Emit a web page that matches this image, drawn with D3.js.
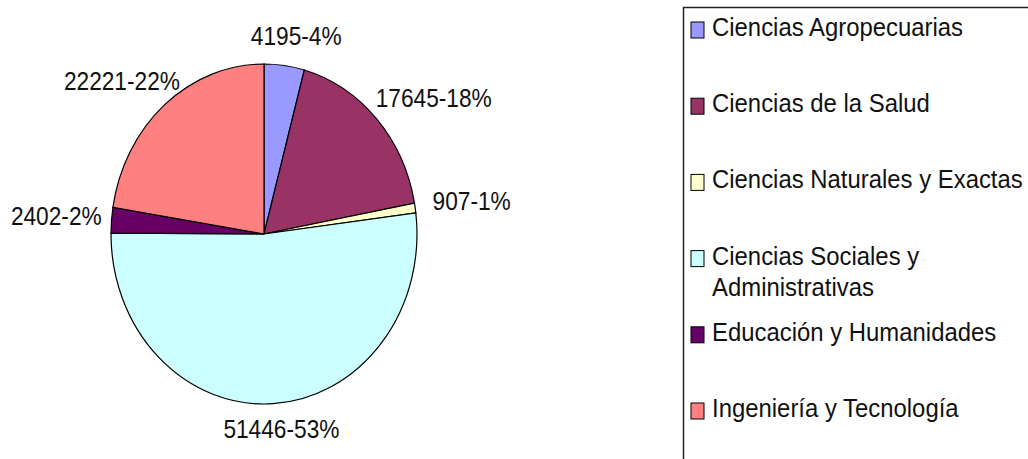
<!DOCTYPE html>
<html>
<head>
<meta charset="utf-8">
<script src="https://cdn.jsdelivr.net/npm/d3@7"></script>
<style>
  body { margin: 0; background: #fff; }
  text { font-family: "Liberation Sans", Arial, sans-serif; fill: #111; }
</style>
</head>
<body>
<div id="chart"></div>
<script>
// data
var categories = ["Ciencias Agropecuarias", "Ciencias de la Salud", "Ciencias Naturales y Exactas",
                  "Ciencias Sociales y Administrativas", "Educación y Humanidades", "Ingeniería y Tecnología"];
var students = [4195, 17645, 907, 51446, 2402, 22221];
var percentLabels = ["4%", "18%", "1%", "53%", "2%", "22%"];
var sliceColors = ["#9999ff", "#993366", "#ffffcc", "#ccffff", "#660066", "#ff8080"];

var W = 1028, H = 459;
var cx = 264, cy = 234, rx = 153, ry = 170;
var sy = ry / rx;          // the picture is stretched vertically
var fontSize = 22.7, legFontSize = 23.9;

var svg = d3.select("#chart").append("svg")
  .attr("width", W).attr("height", H);

var rows = categories.map(function(c, i){
  return {name: c, val: students[i], pct: percentLabels[i], color: sliceColors[i]};
});

var pie = d3.pie().sort(null).value(function(d){ return d.val; });
var arcs = pie(rows);
var arc = d3.arc().innerRadius(0).outerRadius(rx);

var g = svg.append("g")
  .attr("transform", "translate(" + cx + "," + cy + ") scale(1," + sy + ")");

g.selectAll("path.slice")
  .data(arcs)
  .enter().append("path")
  .attr("class", "slice")
  .attr("d", arc)
  .attr("fill", function(d){ return d.data.color; })
  .attr("stroke", "#000")
  .attr("stroke-width", 1.2)
  .attr("vector-effect", "non-scaling-stroke");

// data labels outside the pie
var labelR = rx + 14;
svg.selectAll("text.lbl")
  .data(arcs)
  .enter().append("text")
  .attr("class", "lbl")
  .style("font-size", fontSize + "px")
  .attr("text-anchor", "middle")
  .text(function(d){ return d.data.val + "-" + d.data.pct; })
  .each(function(d){
    var a = (d.startAngle + d.endAngle) / 2;
    var s = Math.sin(a), c = -Math.cos(a);
    var hw = this.getComputedTextLength() / 2, hh = 11;
    var x = cx + 4 + s * (labelR + hw);
    var y = cy + sy * c * (labelR + hh);
    d3.select(this).attr("transform",
      "translate(" + x + "," + (y + 6 * sy) + ") scale(1," + sy + ")");
  });

// legend
var legX = 683.5, legY = 7.5, rowStep = 76.2, firstBase = 36;
var legSy = sy * fontSize / legFontSize;
svg.append("rect")
  .attr("x", legX).attr("y", legY)
  .attr("width", W).attr("height", H)
  .attr("fill", "none")
  .attr("stroke", "#222")
  .attr("stroke-width", 1.5);

var leg = svg.selectAll("g.leg")
  .data(rows)
  .enter().append("g")
  .attr("class", "leg")
  .attr("transform", function(d, i){ return "translate(" + (legX + 7.5) + "," + (firstBase + i * rowStep) + ")"; });

leg.append("rect")
  .attr("x", 0).attr("y", -14)
  .attr("width", 13).attr("height", 16)
  .attr("fill", function(d){ return d.color; })
  .attr("stroke", "#000")
  .attr("stroke-width", 1);

leg.append("text")
  .attr("transform", "translate(21,0) scale(1," + legSy + ")")
  .style("font-size", legFontSize + "px")
  .each(function(d){
    // wrap long names like the original legend does
    var t = d3.select(this), words = d.name.split(" "), line = [], lineNo = 0;
    var ts = t.append("tspan").attr("x", 0).attr("y", 0);
    words.forEach(function(w){
      line.push(w);
      ts.text(line.join(" "));
      if (ts.node().getComputedTextLength() > 320 && line.length > 1) {
        line.pop();
        ts.text(line.join(" "));
        line = [w];
        lineNo++;
        ts = t.append("tspan").attr("x", 0).attr("y", lineNo * 31 / legSy).text(w);
      }
    });
  });
</script>
</body>
</html>
